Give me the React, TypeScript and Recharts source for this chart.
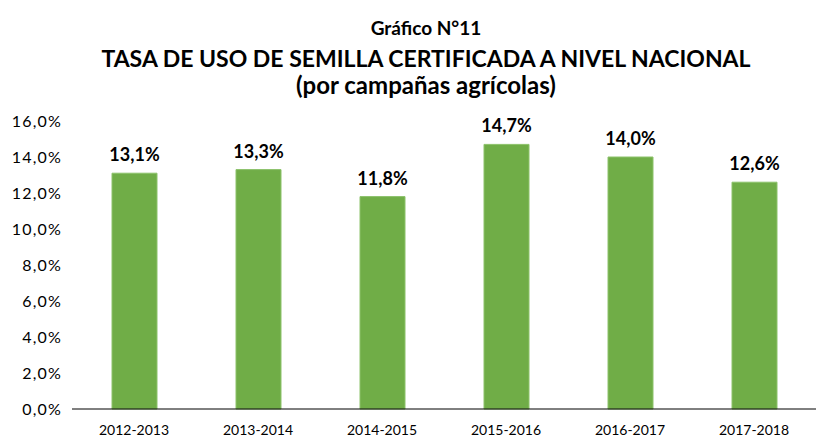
import React from "react";
import { BarChart, Bar, XAxis, YAxis, LabelList } from "recharts";

const campaigns = ["2012-2013", "2013-2014", "2014-2015", "2015-2016", "2016-2017", "2017-2018"];
const rates = [13.1, 13.3, 11.8, 14.7, 14.0, 12.6];
const yTicks = [0, 2, 4, 6, 8, 10, 12, 14, 16];
const titleLines = ["Gráfico N°11", "TASA DE USO DE SEMILLA CERTIFICADA A NIVEL NACIONAL", "(por campañas agrícolas)"];

const data = campaigns.map((c, i) => ({ campaign: c, rate: rates[i] }));

const fmt = (v: number) => v.toFixed(1).replace(".", ",") + "%";

const FONT = "Lato, 'Open Sans', sans-serif";

const ValueLabel = (props: any) => {
  const { x, y, width, value } = props;
  return (
    <text
      x={x + width / 2}
      y={y - 12}
      textAnchor="middle"
      fontFamily={FONT}
      fontWeight={700}
      fontSize={18}
      fill="#000"
    >
      {fmt(value)}
    </text>
  );
};

export default function App() {
  return (
    <div style={{ position: "absolute", left: 0, top: 0, width: 816, height: 439, background: "#fff" }}>
      <div style={{ position: "absolute", left: 0, width: 852, top: 0, textAlign: "center", fontFamily: FONT, fontWeight: 700, color: "#000" }}>
        <div style={{ position: "absolute", left: 0, right: 0, top: 17, fontSize: 19, lineHeight: "22px" }}>{titleLines[0]}</div>
        <div style={{ position: "absolute", left: 0, right: 0, top: 46, fontSize: 23, lineHeight: "25px" }}>{titleLines[1]}</div>
        <div style={{ position: "absolute", left: 0, right: 0, top: 73, fontSize: 24, lineHeight: "24px" }}>{titleLines[2]}</div>
      </div>
      <BarChart
        width={816}
        height={439}
        data={data}
        margin={{ top: 121, right: 0, bottom: 0, left: 0 }}
        style={{ position: "absolute", left: 0, top: 0 }}
      >
        <XAxis
          dataKey="campaign"
          height={30}
          axisLine={{ stroke: "#000", strokeWidth: 1 }}
          tickLine={false}
          tickMargin={10}
          interval={0}
          tick={{ fontFamily: FONT, fontSize: 14, fill: "#000" }}
        />
        <YAxis
          width={72}
          domain={[0, 16]}
          ticks={yTicks}
          axisLine={false}
          tickLine={false}
          tickMargin={4}
          tickFormatter={fmt}
          tick={{ fontFamily: FONT, fontSize: 16, fill: "#000", letterSpacing: 1.2 }}
        />
        <Bar dataKey="rate" fill="#70AD47" stroke="#8CC26A" strokeWidth={1} barSize={45} isAnimationActive={false}>
          <LabelList dataKey="rate" content={ValueLabel} />
        </Bar>
      </BarChart>
    </div>
  );
}
